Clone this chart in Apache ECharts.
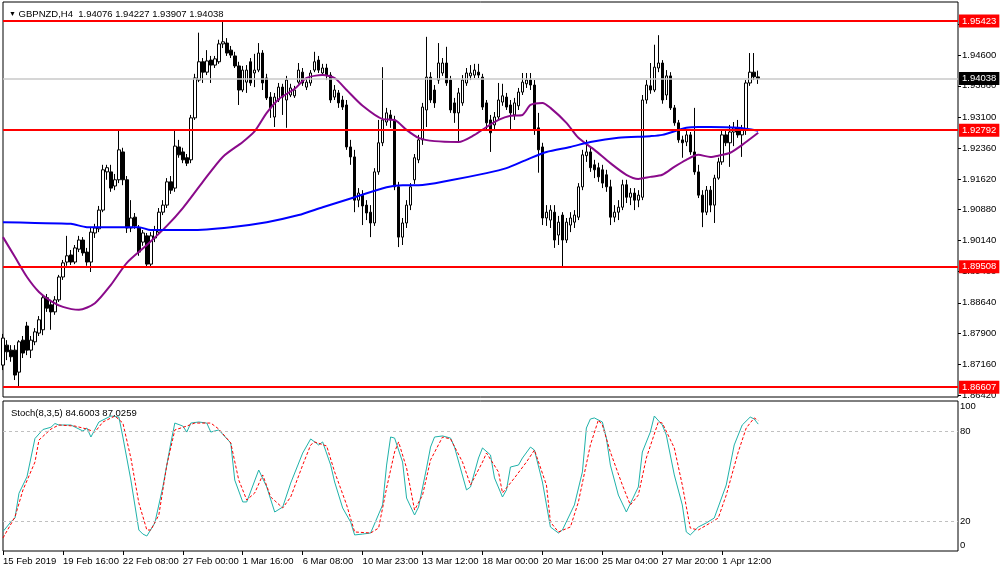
<!DOCTYPE html>
<html><head><meta charset="utf-8">
<script src="https://cdn.jsdelivr.net/npm/echarts@6/dist/echarts.min.js"></script>
<style>html,body{margin:0;padding:0;background:#fff}#c{width:1000px;height:571px}</style>
</head><body><div id="c"></div>
<script>
const symbol = 'GBPNZD,H4';
const tickLabels = ['15 Feb 2019','19 Feb 16:00','22 Feb 08:00','27 Feb 00:00','1 Mar 16:00','6 Mar 08:00','10 Mar 23:00','13 Mar 12:00','18 Mar 00:00','20 Mar 16:00','25 Mar 04:00','27 Mar 20:00','1 Apr 12:00'];
const priceTicks = [1.86420,1.87160,1.87900,1.88640,1.89400,1.90140,1.90880,1.91620,1.92360,1.93100,1.93860,1.94600,1.95340];
const levels = [1.95423, 1.92792, 1.89508, 1.86607];
const stochTicks = [0, 20, 80, 100];
const stochLevels = [20, 80];
const stochParams = '8,3,5';

const opens = [1.8714,1.8762,1.8750,1.8750,1.8697,1.8774,1.8808,1.8750,1.8770,1.8791,
1.8799,1.8876,1.8859,1.8842,1.8871,1.8926,1.8962,1.8979,1.8962,1.8993,
1.9015,1.8986,1.8962,1.9032,1.9042,1.9087,1.9179,1.9179,1.9145,1.9160,
1.9227,1.9160,1.9044,1.9070,1.9044,1.9010,1.9025,1.8957,1.9020,1.9034,
1.9082,1.9099,1.9155,1.9140,1.9239,1.9227,1.9213,1.9208,1.9309,1.9400,
1.9444,1.9419,1.9448,1.9436,1.9444,1.9487,1.9489,1.9472,1.9458,1.9434,
1.9376,1.9395,1.9444,1.9417,1.9424,1.9465,1.9405,1.9359,1.9311,1.9352,
1.9383,1.9352,1.9364,1.9362,1.9395,1.9419,1.9383,1.9393,1.9424,1.9448,
1.9417,1.9429,1.9412,1.9359,1.9369,1.9352,1.9340,1.9239,1.9215,1.9111,
1.9123,1.9099,1.9082,1.9056,1.9179,1.9249,1.9299,1.9316,1.9304,1.9143,
1.9022,1.9056,1.9099,1.9160,1.9208,1.9256,1.9328,1.9407,1.9376,1.9400,
1.9417,1.9441,1.9400,1.9345,1.9321,1.9345,1.9393,1.9410,1.9412,1.9419,
1.9407,1.9345,1.9304,1.9292,1.9311,1.9347,1.9359,1.9340,1.9316,1.9338,
1.9371,1.9391,1.9400,1.9388,1.9285,1.9239,1.9068,1.9063,1.9082,1.9027,
1.9075,1.9015,1.9051,1.9058,1.9070,1.9143,1.9218,1.9227,1.9196,1.9189,
1.9184,1.9172,1.9143,1.9070,1.9082,1.9094,1.9148,1.9118,1.9128,1.9111,
1.9118,1.9352,1.9386,1.9376,1.9429,1.9441,1.9364,1.9410,1.9333,1.9297,
1.9256,1.9251,1.9268,1.9227,1.9179,1.9123,1.9082,1.9135,1.9099,1.9164,
1.9203,1.9268,1.9249,1.9275,1.9285,1.9268,1.9280,1.9393,1.9419,1.94076];

const highs = [1.8789,1.8774,1.8762,1.8762,1.8774,1.8784,1.8818,1.8784,1.8803,1.8832,
1.8883,1.8885,1.8871,1.8880,1.8931,1.8967,1.9025,1.8991,1.9003,1.9025,
1.9022,1.8996,1.9044,1.9054,1.9097,1.9196,1.9196,1.9196,1.9174,1.9280,
1.9237,1.9169,1.9111,1.9080,1.9051,1.9039,1.9032,1.9034,1.9049,1.9092,
1.9111,1.9164,1.9169,1.9280,1.9256,1.9237,1.9222,1.9316,1.9415,1.9514,
1.9453,1.9472,1.9458,1.9458,1.9497,1.9542,1.9501,1.9482,1.9468,1.9444,
1.9434,1.9436,1.9453,1.9463,1.9489,1.9472,1.9415,1.9371,1.9369,1.9393,
1.9391,1.9410,1.9391,1.9386,1.9441,1.9429,1.9405,1.9424,1.9468,1.9458,
1.9439,1.9439,1.9419,1.9388,1.9376,1.9362,1.9352,1.9256,1.9232,1.9140,
1.9135,1.9111,1.9099,1.9188,1.9304,1.9431,1.9333,1.9328,1.9314,1.9155,
1.9068,1.9111,1.9152,1.9222,1.9268,1.9345,1.9504,1.9419,1.9388,1.9489,
1.9453,1.9480,1.9410,1.9357,1.9381,1.9412,1.9429,1.9436,1.9439,1.9439,
1.9415,1.9352,1.9316,1.9323,1.9393,1.9391,1.9369,1.9352,1.9357,1.9381,
1.9417,1.9417,1.9417,1.9400,1.9321,1.9249,1.9099,1.9099,1.9099,1.9073,
1.9082,1.9068,1.9082,1.9087,1.9152,1.9232,1.9256,1.9237,1.9208,1.9201,
1.9196,1.9184,1.9160,1.9099,1.9111,1.9160,1.9160,1.9140,1.9140,1.9135,
1.9364,1.9400,1.9441,1.9485,1.9508,1.9448,1.9424,1.9419,1.9340,1.9304,
1.9266,1.9280,1.9275,1.9333,1.9196,1.9135,1.9145,1.9145,1.9172,1.9213,
1.9280,1.9280,1.9292,1.9299,1.9304,1.9292,1.9400,1.9465,1.9465,1.94227];

const lows = [1.8702,1.8726,1.8722,1.8678,1.8661,1.8731,1.8738,1.8731,1.8762,1.8784,
1.8786,1.8842,1.8799,1.8835,1.8866,1.8919,1.8953,1.8955,1.8957,1.8986,
1.8977,1.8953,1.8938,1.9020,1.9034,1.9082,1.9160,1.9131,1.9135,1.9152,
1.9147,1.9032,1.9034,1.9042,1.8977,1.9001,1.8948,1.8950,1.9010,1.9027,
1.9075,1.9092,1.9126,1.9131,1.9213,1.9200,1.9193,1.9200,1.9304,1.9395,
1.9393,1.9412,1.9393,1.9429,1.9439,1.9477,1.9458,1.9453,1.9429,1.9340,
1.9371,1.9369,1.9386,1.9383,1.9419,1.9376,1.9352,1.9309,1.9287,1.9347,
1.9316,1.9285,1.9359,1.9357,1.9391,1.9386,1.9376,1.9386,1.9419,1.9417,
1.9412,1.9400,1.9345,1.9352,1.9333,1.9328,1.9232,1.9196,1.9082,1.9094,
1.9051,1.9063,1.9022,1.9049,1.9172,1.9241,1.9290,1.9285,1.9135,1.8998,
1.9003,1.9044,1.9087,1.9150,1.9200,1.9244,1.9287,1.9345,1.9333,1.9391,
1.9410,1.9386,1.9321,1.9297,1.9251,1.9338,1.9386,1.9400,1.9405,1.9405,
1.9328,1.9280,1.9227,1.9280,1.9304,1.9338,1.9328,1.9280,1.9304,1.9328,
1.9364,1.9381,1.9376,1.9268,1.9177,1.9051,1.9049,1.9044,1.8996,1.9003,
1.8950,1.9008,1.9034,1.9044,1.9063,1.9135,1.9203,1.9179,1.9164,1.9155,
1.9140,1.9131,1.9051,1.9058,1.9063,1.9087,1.9104,1.9099,1.9087,1.9094,
1.9111,1.9343,1.9367,1.9371,1.9419,1.9343,1.9352,1.9328,1.9290,1.9249,
1.9213,1.9241,1.9220,1.9172,1.9116,1.9046,1.9075,1.9082,1.9056,1.9160,
1.9196,1.9241,1.9191,1.9241,1.9261,1.9215,1.9268,1.9386,1.9400,1.93907];

const closes = [1.8779,1.8746,1.8734,1.8690,1.8770,1.8743,1.8750,1.8774,1.8794,1.8823,
1.8876,1.8851,1.8842,1.8871,1.8926,1.8960,1.8977,1.8962,1.8996,1.9015,
1.8984,1.8962,1.9034,1.9044,1.9087,1.9184,1.9189,1.9140,1.9160,1.9232,
1.9160,1.9044,1.9068,1.9049,1.8986,1.9032,1.8957,1.9025,1.9039,1.9082,
1.9099,1.9155,1.9135,1.9241,1.9220,1.9208,1.9200,1.9309,1.9405,1.9444,
1.9419,1.9446,1.9436,1.9451,1.9487,1.9492,1.9465,1.9460,1.9434,1.9376,
1.9424,1.9424,1.9393,1.9424,1.9465,1.9393,1.9357,1.9333,1.9359,1.9383,
1.9359,1.9400,1.9381,1.9376,1.9424,1.9393,1.9395,1.9417,1.9444,1.9424,
1.9429,1.9412,1.9352,1.9376,1.9345,1.9335,1.9239,1.9215,1.9111,1.9128,
1.9097,1.9080,1.9056,1.9179,1.9249,1.9304,1.9321,1.9304,1.9143,1.9022,
1.9056,1.9099,1.9143,1.9213,1.9256,1.9335,1.9407,1.9352,1.9345,1.9441,
1.9441,1.9393,1.9328,1.9321,1.9369,1.9400,1.9417,1.9417,1.9424,1.9412,
1.9335,1.9297,1.9273,1.9311,1.9352,1.9362,1.9335,1.9321,1.9345,1.9371,
1.9395,1.9400,1.9388,1.9280,1.9232,1.9068,1.9082,1.9087,1.9015,1.9058,
1.9015,1.9058,1.9068,1.9075,1.9143,1.9220,1.9227,1.9189,1.9184,1.9167,
1.9152,1.9143,1.9070,1.9082,1.9094,1.9148,1.9118,1.9128,1.9111,1.9123,
1.9352,1.9388,1.9376,1.9431,1.9441,1.9352,1.9410,1.9333,1.9297,1.9256,
1.9249,1.9268,1.9227,1.9179,1.9123,1.9082,1.9135,1.9099,1.9164,1.9203,
1.9268,1.9249,1.9275,1.9285,1.9268,1.9280,1.9393,1.9419,1.9408,1.94038];

// moving averages: [bar index, price]
const maPurple = [[0,1.9022],[3,1.8974],[6,1.8926],[9,1.8890],[12,1.8868],[15,1.8854],[19,1.8847],[23,1.8863],[27,1.8907],[31,1.8960],[36,1.9003],[41,1.9049],[45,1.9092],[50,1.9155],[55,1.9215],[60,1.9251],[63,1.9277],[66,1.9321],[69,1.9354],[73,1.9379],[76,1.9405],[80,1.9412],[83,1.9405],[86,1.9376],[90,1.9338],[95,1.9306],[98,1.9304],[101,1.9280],[104,1.9261],[108,1.9253],[114,1.9251],[118,1.9268],[121,1.9287],[124,1.9304],[127,1.9314],[130,1.9316],[132,1.9340],[135,1.9345],[137,1.9333],[141,1.9297],[144,1.9261],[148,1.9232],[152,1.9200],[156,1.9172],[159,1.9162],[162,1.9167],[165,1.9172],[168,1.9191],[171,1.9208],[174,1.9220],[177,1.9215],[179,1.9218],[182,1.9225],[185,1.9244],[189,1.9273]];
const maBlue = [[0,1.9058],[8,1.9056],[17,1.9054],[21,1.9046],[34,1.9046],[37,1.9039],[47,1.9039],[57,1.9046],[66,1.9058],[74,1.9075],[80,1.9094],[88,1.9118],[96,1.9142],[100,1.9147],[104,1.9147],[112,1.9159],[121,1.9176],[126,1.9188],[131,1.9208],[136,1.9227],[142,1.9239],[147,1.9251],[154,1.9261],[162,1.9265],[165,1.9268],[171,1.9285],[174,1.9287],[177,1.9287],[184,1.9285],[189,1.9278]];

// stochastic: [bar index, value]
const stochMain = [[0,13],[2,19.5],[3,22],[4,38.5],[6,49.5],[8,75],[10,81],[12,82.5],[13,85],[14,84],[17,84],[20,80],[21,82],[22,76],[24,86],[27,90],[29,89.3],[30,76],[32,47.3],[34,14],[35,11.3],[36,10],[38,18.7],[40,42.7],[42,72],[43,85.3],[45,83.3],[46,79.3],[47,85.3],[49,86],[51,85.3],[52,79.3],[54,80.7],[57,72],[58,47.3],[60,32.7],[61,32.7],[64,54],[66,42.7],[68,26],[70,29.3],[72,45.3],[75,65.3],[77,74.7],[79,70.7],[80,72.7],[82,57.3],[83,46],[85,28.7],[87,19.3],[88,10.7],[90,11.3],[92,12],[95,30.7],[96,57.3],[97,76],[98,75.3],[100,59.3],[101,35.3],[103,24],[104,29.3],[106,55.3],[107,69.3],[108,76],[110,76.7],[112,75.3],[113,69.3],[116,40.7],[117,42.7],[119,62],[120,68.7],[122,64],[123,48.7],[125,36],[126,40.7],[127,56],[129,57.3],[130,62],[132,69.3],[133,67.3],[135,46],[137,16],[139,12],[140,14],[143,30.7],[145,52.7],[146,82],[147,88],[148,88.7],[150,86],[151,75.3],[152,57.3],[154,37.3],[156,26],[159,42.7],[160,66],[162,79.3],[163,90],[165,84],[166,77.3],[168,50.7],[170,30.7],[171,12.7],[172,10.7],[174,16],[176,18.7],[178,22],[181,44],[183,70.7],[185,84],[187,89.3],[188,88],[189,84.6003]];
const stochSignal = [[0,8.7],[3,22.7],[5,40.7],[8,59.3],[9,74],[12,81.3],[14,84],[18,83.3],[21,81.3],[23,79.3],[25,86],[28,90],[30,85.3],[32,62],[34,32],[36,14],[37,14],[39,24],[41,57.3],[43,80.7],[46,83.3],[48,85.3],[52,85.3],[54,81.3],[57,72],[59,47.3],[61,34],[63,38.7],[65,50.7],[67,36],[70,28.7],[72,36],[75,57.3],[77,70.7],[78,72.7],[81,70],[83,52.7],[86,30.7],[88,12.7],[92,12],[94,15.3],[96,42],[98,66],[99,72.7],[101,55.3],[103,27.3],[105,37.3],[107,60.7],[110,76],[112,74.7],[115,59.3],[117,44],[120,59.3],[121,65.3],[124,52.7],[125,38.7],[128,48.7],[131,59.3],[133,67.3],[136,44],[137,19.3],[139,12.7],[142,16],[144,32.7],[147,70.7],[149,87.3],[150,84],[152,66],[155,44],[157,30.7],[159,37.3],[161,62],[164,86],[165,85.3],[168,68.7],[170,44],[172,15.3],[174,14],[177,18.7],[179,22],[181,37.3],[184,66],[186,82],[188,88.7],[189,87.0259]];

// ---- build ----
const slotCount = 240; // bar slots incl. empty right-hand chart shift
const labelStep = 15;
const categories = Array.from({length: slotCount}, (_, i) =>
  (i % labelStep === 0 && i / labelStep < tickLabels.length) ? tickLabels[i / labelStep] : '');
const isTick = (i) => i % labelStep === 0 && i / labelStep < tickLabels.length;
const candles = opens.map((o, i) => [o, closes[i], lows[i], highs[i]]);
const last = opens.length - 1;
const font = '"Liberation Sans",Arial,sans-serif';
const fs = 9.5;
const pxPerUnit = 4155;
const yMin = 1.8642 - 2 / pxPerUnit, yMax = 1.8642 + 393 / pxPerUnit;

const tagLabel = (bg) => ({show: true, position: 'end', distance: 1, formatter: p => Number(p.value).toFixed(5),
  color: '#fff', backgroundColor: bg, padding: [2, 3, 1, 3], fontSize: fs, fontFamily: font});
const levelMarks = [{yAxis: closes[last], lineStyle: {color: '#c8c8c8', width: 1.5, type: 'solid'}, label: tagLabel('#000')}]
  .concat(levels.map(v => ({yAxis: v, lineStyle: {color: '#ff0000', width: 2, type: 'solid'}, label: tagLabel('#ff0000')})));

const chart = echarts.init(document.getElementById('c'), null, {renderer: 'canvas'});
chart.setOption({
  animation: false,
  backgroundColor: '#fff',
  title: [
    {text: '{tri|▼} ' + symbol + '  ' + [opens[last], highs[last], lows[last], closes[last]].map(v => v.toFixed(5)).join(' '),
     left: 4, top: 4,
     textStyle: {fontSize: fs, fontWeight: 'normal', color: '#000', fontFamily: font,
       rich: {tri: {fontSize: 7, color: '#000', fontFamily: font}}}},
    {text: 'Stoch(' + stochParams + ') ' + stochMain[stochMain.length - 1][1].toFixed(4) + ' ' + stochSignal[stochSignal.length - 1][1].toFixed(4),
     left: 6, top: 403,
     textStyle: {fontSize: fs, fontWeight: 'normal', color: '#000', fontFamily: font}}
  ],
  grid: [
    {left: 3, top: 2, width: 955, height: 395, show: true, borderColor: '#000', borderWidth: 1, backgroundColor: '#fff', outerBoundsMode: 'none'},
    {left: 3, top: 401, width: 955, height: 150, show: true, borderColor: '#000', borderWidth: 1, backgroundColor: '#fff', outerBoundsMode: 'none'}
  ],
  xAxis: [
    {type: 'category', gridIndex: 0, data: categories, boundaryGap: false,
     axisLine: {show: false}, axisTick: {show: false}, axisLabel: {show: false}, splitLine: {show: false}},
    {type: 'category', gridIndex: 1, data: categories, boundaryGap: false,
     axisLine: {show: false},
     axisTick: {show: true, length: 4, interval: isTick, lineStyle: {color: '#000'}},
     axisLabel: {interval: isTick, showMinLabel: true, hideOverlap: false, align: 'left', margin: 5, fontSize: fs, color: '#000', fontFamily: font},
     splitLine: {show: false}}
  ],
  yAxis: [
    {type: 'value', gridIndex: 0, position: 'right', min: yMin, max: yMax,
     axisLine: {show: false}, splitLine: {show: false},
     axisTick: {show: true, length: 3, customValues: priceTicks, lineStyle: {color: '#000'}},
     axisLabel: {customValues: priceTicks, formatter: v => v.toFixed(5), margin: 4, color: '#000', fontSize: fs, fontFamily: font}},
    {type: 'value', gridIndex: 1, position: 'right', min: 0, max: 100,
     axisLine: {show: false}, splitLine: {show: false}, axisTick: {show: false},
     axisLabel: {customValues: stochTicks, margin: 2, color: '#000', fontSize: fs, fontFamily: font,
       formatter: v => v === 100 ? '{t|100}' : (v === 0 ? '{b|0}' : String(v)),
       rich: {t: {padding: [10, 0, 0, 0], fontSize: fs, fontFamily: font, color: '#000'},
              b: {padding: [0, 0, 12, 0], fontSize: fs, fontFamily: font, color: '#000'}}}}
  ],
  series: [
    {type: 'candlestick', xAxisIndex: 0, yAxisIndex: 0, data: candles, barWidth: 3,
     itemStyle: {color: '#ffffff', color0: '#000000', borderColor: '#000000', borderColor0: '#000000', borderWidth: 1}},
    {type: 'line', xAxisIndex: 0, yAxisIndex: 0, data: maPurple, showSymbol: false, smooth: 0.25,
     lineStyle: {color: '#8a0a8a', width: 2}},
    {type: 'line', xAxisIndex: 0, yAxisIndex: 0, data: maBlue, showSymbol: false, smooth: 0.25,
     lineStyle: {color: '#0000ff', width: 2},
     markLine: {symbol: ['none', 'none'], silent: true, animation: false, precision: 5, data: levelMarks}},
    {type: 'line', xAxisIndex: 1, yAxisIndex: 1, data: stochMain, showSymbol: false,
     lineStyle: {color: '#20b2aa', width: 1},
     markLine: {symbol: ['none', 'none'], silent: true, animation: false, label: {show: false},
       lineStyle: {color: '#c0c0c0', width: 1, type: [3, 3]},
       data: stochLevels.map(v => ({yAxis: v}))}},
    {type: 'line', xAxisIndex: 1, yAxisIndex: 1, data: stochSignal, showSymbol: false,
     lineStyle: {color: '#ff0000', width: 1, type: [3, 2]}}
  ]
});
</script></body></html>
